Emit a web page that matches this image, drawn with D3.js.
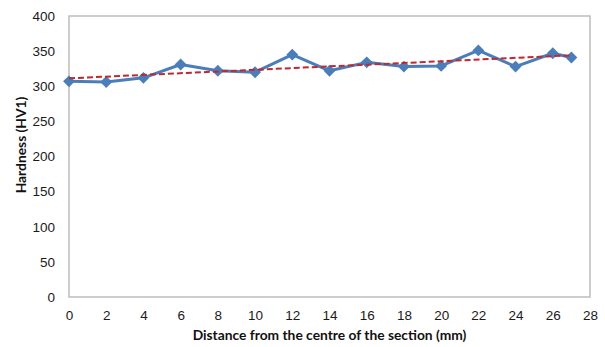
<!DOCTYPE html>
<html>
<head>
<meta charset="utf-8">
<script src="https://cdn.jsdelivr.net/npm/d3@7"></script>
<style>
  body { margin: 0; background: #fff; }
  svg { font-family: Lato, "Open Sans", sans-serif; }
</style>
</head>
<body>
<svg id="chart"></svg>
<script>
// distance from centre (mm) and hardness (HV1)
const distance = [0, 2, 4, 6, 8, 10, 12, 14, 16, 18, 20, 22, 24, 26, 27];
const hardness = [307, 306, 312, 331, 322, 320, 345, 322, 334, 328, 329, 351, 328, 347, 341];
const xTicks = [0, 2, 4, 6, 8, 10, 12, 14, 16, 18, 20, 22, 24, 26, 28];
const yTicks = [0, 50, 100, 150, 200, 250, 300, 350, 400];

const width = 605, height = 347;
const margin = { top: 16, right: 15, bottom: 50, left: 69 };

const svg = d3.select('#chart')
  .attr('width', width)
  .attr('height', height);

const xScale = d3.scaleLinear()
  .domain([0, 28])
  .range([margin.left, width - margin.right]);

const yScale = d3.scaleLinear()
  .domain([0, 400])
  .range([height - margin.bottom, margin.top]);

// plot frame
svg.append('rect')
  .attr('x', xScale(0))
  .attr('y', yScale(400))
  .attr('width', xScale(28) - xScale(0))
  .attr('height', yScale(0) - yScale(400))
  .attr('fill', 'none')
  .attr('stroke', '#bdbdbd')
  .attr('stroke-width', 1.5);

const x_axis = d3.axisBottom(xScale).tickValues(xTicks).tickSize(0).tickPadding(13);
const y_axis = d3.axisLeft(yScale).tickValues(yTicks).tickSize(0).tickPadding(14);

svg.append('g')
  .attr('transform', `translate(0, ${yScale(0)})`)
  .call(x_axis)
  .call(g => g.select('.domain').remove())
  .selectAll('text')
  .attr('font-size', 13.5)
  .attr('fill', '#1a1a1a');

svg.append('g')
  .attr('transform', `translate(${xScale(0)}, 0)`)
  .call(y_axis)
  .call(g => g.select('.domain').remove())
  .selectAll('text')
  .attr('font-size', 13.5)
  .attr('fill', '#1a1a1a');

// axis titles
svg.append('text')
  .attr('x', (xScale(0) + xScale(28)) / 2)
  .attr('y', 340)
  .attr('text-anchor', 'middle')
  .attr('font-size', 13.8)
  .attr('font-weight', 'bold')
  .attr('fill', '#111')
  .text('Distance from the centre of the section (mm)');

svg.append('text')
  .attr('transform', 'translate(26, 145) rotate(-90)')
  .attr('text-anchor', 'middle')
  .attr('font-size', 13.8)
  .attr('font-weight', 'bold')
  .attr('fill', '#111')
  .text('Hardness (HV1)');

const points = distance.map((d, i) => ({ x: d, y: hardness[i] }));

// data line
const line = d3.line()
  .x(d => xScale(d.x))
  .y(d => yScale(d.y));

svg.append('path')
  .datum(points)
  .attr('d', line)
  .attr('fill', 'none')
  .attr('stroke', '#4a7ebb')
  .attr('stroke-width', 3)
  .attr('stroke-linejoin', 'round');

svg.selectAll('.marker')
  .data(points)
  .enter()
  .append('path')
  .attr('class', 'marker')
  .attr('d', d3.symbol().type(d3.symbolDiamond2).size(90))
  .attr('transform', d => `translate(${xScale(d.x)}, ${yScale(d.y)})`)
  .attr('fill', '#4a7ebb');

// linear trendline (least squares)
const mx = d3.mean(distance), my = d3.mean(hardness);
const slope = d3.sum(distance, (d, i) => (d - mx) * (hardness[i] - my)) /
  d3.sum(distance, d => (d - mx) * (d - mx));
const icpt = my - slope * mx;
const trend = [0, d3.max(distance)].map(x => ({ x: x, y: icpt + slope * x }));

svg.append('path')
  .datum(trend)
  .attr('d', line)
  .attr('fill', 'none')
  .attr('stroke', '#c0282d')
  .attr('stroke-width', 2)
  .attr('stroke-dasharray', '6,3');
</script>
</body>
</html>
